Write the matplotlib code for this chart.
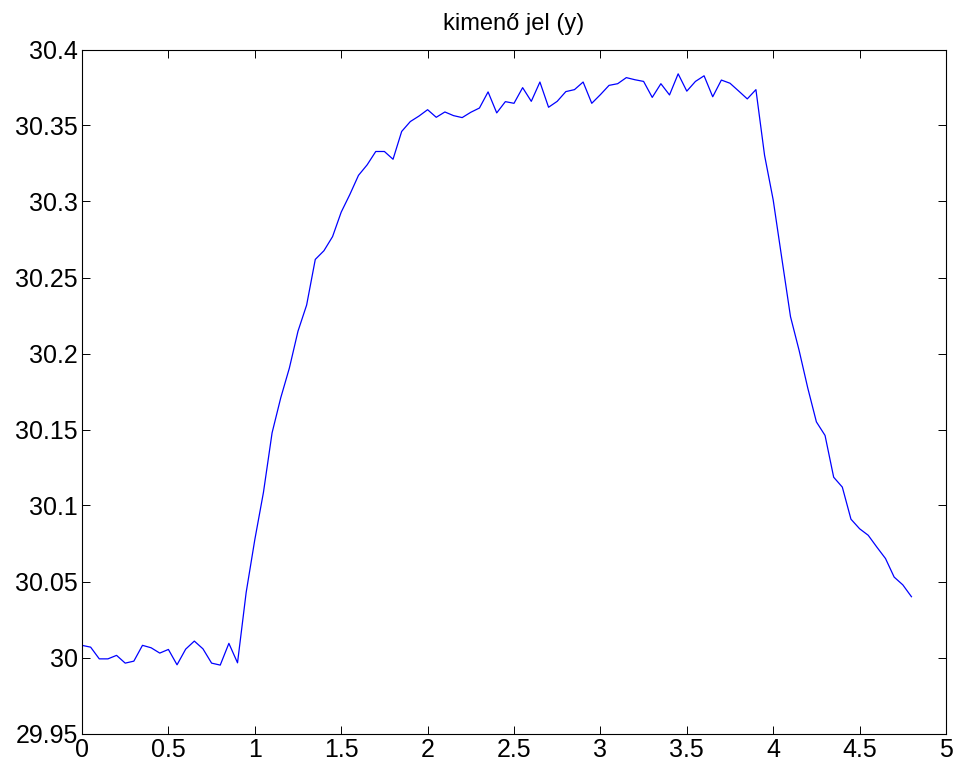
import numpy as np
import matplotlib
matplotlib.use("Agg")
import matplotlib.pyplot as plt

plt.rcParams['font.family'] = ['Liberation Sans', 'DejaVu Sans']

title_text = "kimenő jel (y)"
sample_time = 0.05
y_values = [
    30.0080, 30.0068, 29.9991, 29.9991, 30.0014, 29.9963, 29.9976, 30.0080, 30.0064, 30.0029,
    30.0053, 29.9952, 30.0055, 30.0108, 30.0057, 29.9963, 29.9950, 30.0093, 29.9965, 30.0428,
    30.0775, 30.1086, 30.1478, 30.1708, 30.1904, 30.2147, 30.2319, 30.2619, 30.2676, 30.2769,
    30.2930, 30.3046, 30.3172, 30.3241, 30.3329, 30.3329, 30.3278, 30.3461, 30.3526, 30.3562,
    30.3604, 30.3554, 30.3589, 30.3565, 30.3552, 30.3587, 30.3615, 30.3721, 30.3583, 30.3657,
    30.3646, 30.3749, 30.3659, 30.3786, 30.3620, 30.3659, 30.3723, 30.3736, 30.3786, 30.3646,
    30.3703, 30.3764, 30.3775, 30.3815, 30.3801, 30.3790, 30.3685, 30.3775, 30.3701, 30.3840,
    30.3726, 30.3790, 30.3827, 30.3689, 30.3799, 30.3778, 30.3727, 30.3675, 30.3736, 30.3304,
    30.3010, 30.2625, 30.2243, 30.2020, 30.1773, 30.1550, 30.1461, 30.1186, 30.1121, 30.0910,
    30.0847, 30.0804, 30.0726, 30.0651, 30.0529, 30.0478, 30.0400,
]
t_values = np.arange(len(y_values)) * sample_time

x_ticks = [0, 0.5, 1, 1.5, 2, 2.5, 3, 3.5, 4, 4.5, 5]
x_tick_labels = ["0", "0.5", "1", "1.5", "2", "2.5", "3", "3.5", "4", "4.5", "5"]
y_ticks = [29.95, 30.0, 30.05, 30.1, 30.15, 30.2, 30.25, 30.3, 30.35, 30.4]
y_tick_labels = ["29.95", "30", "30.05", "30.1", "30.15", "30.2", "30.25", "30.3", "30.35", "30.4"]

fig = plt.figure(figsize=(9.61, 7.71), dpi=100)
ax = fig.add_axes([82/961, (771-733.5)/771, (946-82)/961, (733.5-49.5)/771])
ax.plot(t_values, y_values, color=(0, 0, 1), linewidth=0.9)
ax.set_xlim(0, 5)
ax.set_ylim(29.95, 30.4)
ax.set_xticks(x_ticks)
ax.set_xticklabels(x_tick_labels)
ax.set_yticks(y_ticks)
ax.set_yticklabels(y_tick_labels)
ax.tick_params(direction='in', length=6, width=0.7, top=True, right=True,
               labelsize=18, pad=3, colors='black')
for s in ax.spines.values():
    s.set_linewidth(0.8)
    s.set_color('black')
ax.set_title(title_text, fontsize=17, pad=14)
fig.savefig("out.png", dpi=100, facecolor='white')
